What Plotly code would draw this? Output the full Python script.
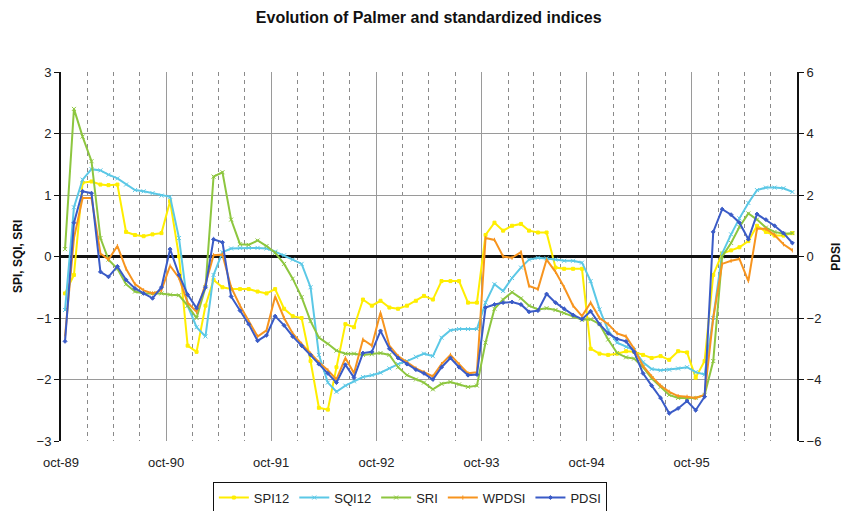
import pandas as pd
import plotly.graph_objects as go

# Monthly series, Oct 1989 - Sep 1996 (values plotted mid-month)
months = (pd.date_range("1989-10-01", periods=84, freq="MS") + pd.Timedelta(days=14)).strftime("%Y-%m-%d").tolist()

spi12 = [-0.6, -0.3, 1.2, 1.22, 1.17, 1.16, 1.17, 0.4, 0.35, 0.33, 0.36, 0.38,
         0.9, 0.0, -1.45, -1.55, -0.8, -0.38, -0.5, -0.53, -0.53, -0.53, -0.57, -0.6,
         -0.53, -0.85, -0.97, -1.0, -1.7, -2.46, -2.49, -1.8, -1.1, -1.15, -0.7, -0.8,
         -0.72, -0.83, -0.85, -0.8, -0.72, -0.64, -0.7, -0.4, -0.4, -0.4, -0.75, -0.75,
         0.35, 0.55, 0.42, 0.5, 0.53, 0.42, 0.39, 0.39, -0.18, -0.2, -0.2, -0.2,
         -1.5, -1.58, -1.6, -1.58, -1.54, -1.55, -1.6, -1.65, -1.62, -1.68, -1.54, -1.56,
         -1.97, -1.7, -0.3, 0.05, 0.1, 0.15, 0.25, 0.5, 0.4, 0.34, 0.34, 0.38]

sqi12 = [-0.87, 0.8, 1.25, 1.42, 1.4, 1.33, 1.27, 1.17, 1.08, 1.06, 1.03, 0.99,
         0.97, 0.3, -0.8, -1.15, -1.3, -0.3, 0.07, 0.13, 0.14, 0.14, 0.14, 0.13,
         0.08, 0.02, -0.05, -0.12, -0.5, -1.6, -2.05, -2.2, -2.1, -2.03, -1.96, -1.93,
         -1.89, -1.82, -1.75, -1.7, -1.63, -1.58, -1.62, -1.32, -1.2, -1.18, -1.18, -1.18,
         -0.75, -0.45, -0.56, -0.35, -0.18, -0.05, -0.02, -0.03, -0.05, -0.07, -0.07, -0.1,
         -0.4, -0.86, -1.2, -1.4, -1.47, -1.52, -1.72, -1.83, -1.85, -1.84, -1.82, -1.8,
         -1.88, -1.92, -1.0, 0.05, 0.36, 0.62, 0.87, 1.08, 1.12, 1.12, 1.11, 1.05]

sri = [0.12, 2.4, 1.95, 1.55, 0.3, -0.05, -0.2, -0.45, -0.57, -0.6, -0.6, -0.6,
       -0.62, -0.63, -0.8, -1.0, -0.5, 1.3, 1.37, 0.6, 0.2, 0.19, 0.26, 0.17,
       0.06, -0.12, -0.36, -0.66, -1.05, -1.32, -1.42, -1.53, -1.58, -1.58, -1.6, -1.59,
       -1.57, -1.6, -1.8, -1.93, -2.0, -2.05, -2.16, -2.07, -2.04, -2.08, -2.12, -2.1,
       -1.4, -0.85, -0.7, -0.58, -0.68, -0.8, -0.86, -0.84, -0.87, -0.92, -0.98, -1.03,
       -1.02, -1.1, -1.35, -1.57, -1.64, -1.66, -1.8, -1.98, -2.12, -2.25, -2.3, -2.3,
       -2.3, -2.25, -1.7, 0.0, 0.22, 0.48, 0.7, 0.6, 0.47, 0.4, 0.37, 0.38]

wpdsi = [-2.6, 0.6, 1.9, 1.9, 0.1, -0.1, 0.34, -0.4, -0.9, -1.1, -1.2, -1.1,
         -0.3, -0.7, -1.5, -1.8, -0.9, 0.04, 0.06, -1.0, -1.6, -2.1, -2.6, -2.4,
         -1.3, -2.0, -2.5, -2.84, -3.16, -3.44, -3.7, -4.0, -3.3, -3.8, -2.7, -2.9,
         -1.82, -2.9, -3.24, -3.44, -3.64, -3.76, -3.9, -3.5, -3.2, -3.5, -3.8, -3.76,
         0.6, 0.54, 0.0, -0.04, 0.14, -0.96, -1.06, -0.1, -0.5, -1.0, -1.6, -1.94,
         -1.5, -2.0, -2.2, -2.5, -2.6, -3.0, -3.56, -3.9, -4.2, -4.4, -4.54, -4.56,
         -4.6, -4.5, -2.0, -0.24, -0.14, -0.08, -0.8, 0.9, 0.9, 0.7, 0.4, 0.2]

pdsi = [-2.76, 1.1, 2.12, 2.06, -0.5, -0.66, -0.32, -0.76, -1.04, -1.2, -1.36, -1.0,
        0.24, -0.6, -1.24, -1.68, -1.0, 0.56, 0.46, -1.3, -1.76, -2.2, -2.74, -2.56,
        -1.94, -2.24, -2.6, -2.9, -3.2, -3.5, -3.8, -4.1, -3.52, -3.94, -3.14, -3.1,
        -2.42, -3.0, -3.3, -3.5, -3.68, -3.8, -4.0, -3.6, -3.3, -3.6, -3.86, -3.84,
        -1.66, -1.56, -1.5, -1.48, -1.56, -1.8, -1.76, -1.22, -1.5, -1.7, -1.9, -2.04,
        -1.78, -2.2, -2.5, -2.68, -2.76, -3.1, -3.8, -4.2, -4.6, -5.1, -4.94, -4.7,
        -5.0, -4.56, 0.8, 1.54, 1.36, 1.1, 0.56, 1.38, 1.2, 1.0, 0.76, 0.44]

year_ticks = ["1989-10-01", "1990-10-01", "1991-10-01", "1992-10-01",
              "1993-10-01", "1994-10-01", "1995-10-01", "1996-10-01"]
year_labels = ["oct-89", "oct-90", "oct-91", "oct-92", "oct-93", "oct-94", "oct-95", ""]

FONT = "Liberation Sans, Arial, sans-serif"

fig = go.Figure()

left_series = [
    ("SPI12", spi12, "#FFEE00", "square", 3),
    ("SQI12", sqi12, "#5BC8E6", "x-thin-open", 4),
    ("SRI", sri, "#8DC63F", "x-thin-open", 4),
]
for name, vals, color, sym, size in left_series:
    fig.add_trace(go.Scatter(
        x=months, y=vals, name=name, mode="lines+markers",
        line=dict(color=color, width=2),
        marker=dict(symbol=sym, size=size, color=color, line=dict(color=color, width=1)),
        yaxis="y",
    ))

right_series = [
    ("WPDSI", wpdsi, "#F7941E", "line-ns-open", 3),
    ("PDSI", pdsi, "#3A5BC7", "diamond", 3),
]
for name, vals, color, sym, size in right_series:
    fig.add_trace(go.Scatter(
        x=months, y=vals, name=name, mode="lines+markers",
        line=dict(color=color, width=2),
        marker=dict(symbol=sym, size=size, color=color, line=dict(color=color, width=1)),
        yaxis="y2",
    ))

fig.update_layout(
    width=849, height=511,
    margin=dict(l=61, r=52, t=72, b=70, autoexpand=False),
    paper_bgcolor="white", plot_bgcolor="white",
    font=dict(family=FONT, size=13, color="#222"),
    title=dict(text="<b>Evolution of Palmer and standardized indices</b>",
               x=0.505, xanchor="center", y=0.965, yanchor="middle",
               font=dict(family=FONT, size=16, color="#111")),
    showlegend=True,
    legend=dict(orientation="h", x=0.474, xanchor="center", y=-0.11, yanchor="top",
                bordercolor="#111", borderwidth=1, bgcolor="white",
                font=dict(family=FONT, size=13, color="#222"),
                itemwidth=30, tracegroupgap=0),
    xaxis=dict(
        type="date", range=["1989-10-01", "1996-10-01"],
        tickmode="array", tickvals=year_ticks, ticktext=year_labels,
        showgrid=True, gridcolor="#9a9a9a", gridwidth=1,
        ticks="", ticklabelstandoff=12,
        showline=False, zeroline=False,
        minor=dict(dtick="M3", tick0="1989-10-01", showgrid=True,
                   gridcolor="#8a8a8a", gridwidth=1, griddash="4px,4px"),
        tickfont=dict(family=FONT, size=13, color="#222"),
    ),
    yaxis=dict(
        range=[-3, 3], dtick=1, tick0=0,
        showgrid=True, gridcolor="#9a9a9a", gridwidth=1,
        showline=True, linecolor="#111", linewidth=2,
        ticks="outside", ticklen=5, tickcolor="#111", tickwidth=1,
        zeroline=True, zerolinecolor="#111", zerolinewidth=3,
        tickfont=dict(family=FONT, size=13, color="#222"),
    ),
    yaxis2=dict(
        range=[-6, 6], dtick=2, tick0=0, overlaying="y", side="right",
        showgrid=False, zeroline=False,
        showline=True, linecolor="#111", linewidth=2,
        ticks="outside", ticklen=5, tickcolor="#111", tickwidth=1,
        tickfont=dict(family=FONT, size=13, color="#222"),
    ),
    annotations=[
        dict(text="<b>SPI, SQI, SRI</b>", xref="paper", yref="paper",
             x=-0.059, y=0.5, textangle=-90, showarrow=False,
             xanchor="center", yanchor="middle",
             font=dict(family=FONT, size=12, color="#111")),
        dict(text="<b>PDSI</b>", xref="paper", yref="paper",
             x=1.052, y=0.5, textangle=-90, showarrow=False,
             xanchor="center", yanchor="middle",
             font=dict(family=FONT, size=12, color="#111")),
    ],
)

fig.write_html("out.html")
